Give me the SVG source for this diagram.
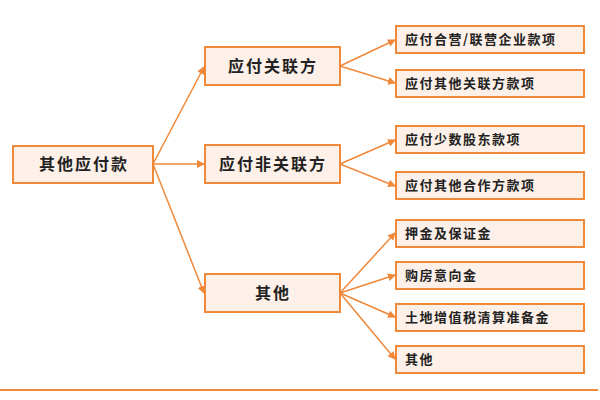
<svg xmlns="http://www.w3.org/2000/svg" width="600" height="400" viewBox="0 0 600 400">
<style>
.b{fill:#fcf0e8;stroke:#f0883a;stroke-width:2}
.t{font-family:"Noto Sans CJK SC",sans-serif;font-weight:bold;fill:#222}
.l{font-size:16px;letter-spacing:2px}.s{font-size:13px;letter-spacing:1.5px}
#edges path{fill:none;stroke:#f0883a;stroke-width:1.5;marker-end:url(#a)}
</style>
<defs><marker id="a" markerWidth="8" markerHeight="8" refX="7" refY="4" orient="auto" markerUnits="userSpaceOnUse"><path d="M0,0L8,4L0,8z" fill="#f0883a"/></marker></defs>
<rect width="600" height="400" fill="#fff"/>
<g id="edges">
<path d="M153,164L204,67"/><path d="M153,164L204,164"/><path d="M153,164L204,293"/>
<path d="M340,66L395,40"/><path d="M340,66L395,83"/>
<path d="M340,164L395,140"/><path d="M340,164L395,186"/>
<path d="M340,293L395,233"/><path d="M340,293L395,275"/><path d="M340,293L395,317"/><path d="M340,293L395,359"/>
</g>
<g id="root"><rect class="b" x="13" y="146" width="140" height="37"/><text class="t l" x="84" y="170" text-anchor="middle">其他应付款</text></g>
<g id="m1"><rect class="b" x="205" y="47" width="135" height="38"/><text class="t l" x="273" y="72" text-anchor="middle">应付关联方</text></g>
<g id="m2"><rect class="b" x="205" y="145" width="135" height="38"/><text class="t l" x="273" y="170" text-anchor="middle">应付非关联方</text></g>
<g id="m3"><rect class="b" x="205" y="274" width="135" height="38"/><text class="t l" x="273" y="299" text-anchor="middle">其他</text></g>
<g id="r1"><rect class="b" x="396" y="26" width="188" height="27"/><text class="t s" x="405" y="44">应付合营/联营企业款项</text></g>
<g id="r2"><rect class="b" x="396" y="70" width="188" height="27"/><text class="t s" x="405" y="88">应付其他关联方款项</text></g>
<g id="r3"><rect class="b" x="396" y="126" width="188" height="27"/><text class="t s" x="405" y="144">应付少数股东款项</text></g>
<g id="r4"><rect class="b" x="396" y="172" width="188" height="27"/><text class="t s" x="405" y="190">应付其他合作方款项</text></g>
<g id="r5"><rect class="b" x="396" y="220" width="188" height="27"/><text class="t s" x="405" y="238">押金及保证金</text></g>
<g id="r6"><rect class="b" x="396" y="262" width="188" height="27"/><text class="t s" x="405" y="280">购房意向金</text></g>
<g id="r7"><rect class="b" x="396" y="304" width="188" height="27"/><text class="t s" x="405" y="322">土地增值税清算准备金</text></g>
<g id="r8"><rect class="b" x="396" y="346" width="188" height="27"/><text class="t s" x="405" y="364">其他</text></g>
<line x1="0" y1="390" x2="598" y2="390" stroke="#f0883a" stroke-width="2"/>
</svg>
